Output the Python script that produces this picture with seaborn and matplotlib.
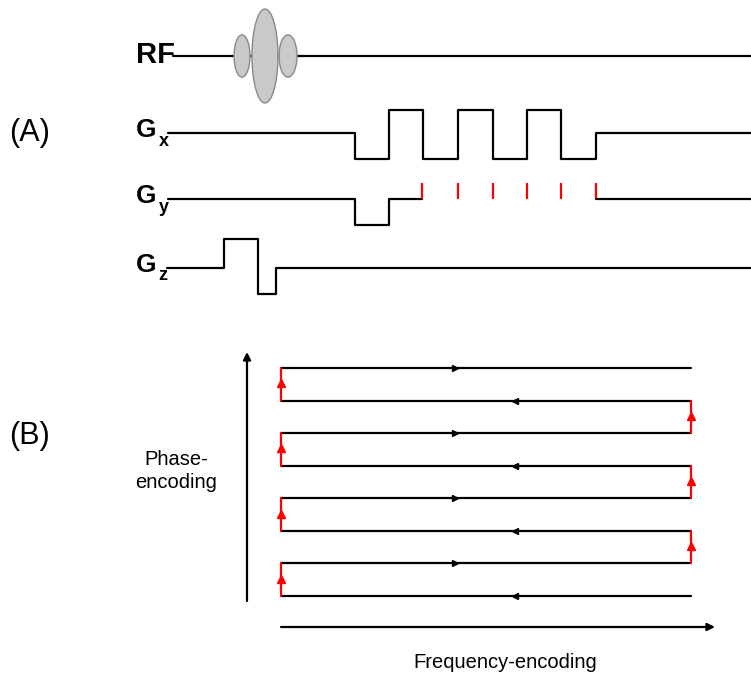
import numpy as np
import pandas as pd
import matplotlib.pyplot as plt
import seaborn as sns
from matplotlib.patches import Ellipse

# ==========================================
# DATA: EPI PULSE SEQUENCE + K-SPACE TRAJECTORY
# ==========================================
# time breakpoints of each gradient waveform, amplitude of each segment
gx_times = [168, 355, 389, 423, 458, 493, 527, 561, 596, 751]
gx_amps = [0, -1.0, 0.9, -1.0, 0.9, -1.0, 0.9, -1.0, 0]

gy_times = [168, 355, 389, 422]
gy_amps = [0, -1.0, 0]
gy_blip_times = [422, 458, 493, 527, 561, 596]
gy_blip_amp = 0.6
gy_tail_times = [596, 751]

gz_times = [167, 224, 258, 276, 751]
gz_amps = [0, 1.1, -1.0, 0]

rf_times = [173, 751]
rf_lobe_centers = [242, 265, 288]
rf_lobe_amps = [0.45, 1.0, 0.45]
rf_lobe_widths = [16, 26, 18]

# k-space: 8 phase-encoding lines, readout from kx=-1 to kx=+1
ky_lines = [0, 1, 2, 3, 4, 5, 6, 7]
kx_range = [-1.0, 1.0]

# ==========================================
# LAYOUT (figure drawn in pixel space)
# ==========================================
W, H = 751, 675
rf_base, gx_base, gy_base, gz_base = 56, 133, 199, 268
grad_scale = 26      # px per gradient unit
rf_scale = 47        # px per rf unit
k_x0, k_xs = 486, 205
k_y0, k_ys = 596, 228 / 7

sns.set_theme(style="white")
plt.rcParams['font.family'] = ['Liberation Sans', 'DejaVu Sans']
plt.rcParams['text.color'] = 'black'

fig = plt.figure(figsize=(W / 100, H / 100), dpi=100)
ax = fig.add_axes([0, 0, 1, 1])

LW = 1.6


def draw_wave(times, amps, base, color='black'):
    df = pd.DataFrame({
        't': times,
        'g': base - grad_scale * np.array(list(amps) + [amps[-1]]),
    })
    sns.lineplot(data=df, x='t', y='g', drawstyle='steps-post',
                 color=color, lw=LW, ax=ax, legend=False)


# RF line + sinc-like lobes
sns.lineplot(x=rf_times, y=[rf_base] * 2, color='black', lw=LW, ax=ax)
for cx, a, w in zip(rf_lobe_centers, rf_lobe_amps, rf_lobe_widths):
    ax.add_patch(Ellipse((cx, rf_base), w, 2 * rf_scale * a,
                         facecolor='#c9c9c9', edgecolor='#8a8a8a',
                         lw=1.0, zorder=3))

draw_wave(gx_times, gx_amps, gx_base)
draw_wave(gy_times, gy_amps, gy_base)
ax.vlines(gy_blip_times, gy_base - grad_scale * gy_blip_amp, gy_base,
          color='red', lw=LW)
sns.lineplot(x=gy_tail_times, y=[gy_base] * 2, color='black', lw=LW, ax=ax)
draw_wave(gz_times, gz_amps, gz_base)

# labels
ax.text(9, 133, '(A)', fontsize=22, va='center', ha='left')
ax.text(9, 436, '(B)', fontsize=22, va='center', ha='left')
ax.text(136, rf_base - 1, 'RF', fontsize=21, fontweight='bold', va='center')
for base, sub in [(gx_base, 'x'), (gy_base, 'y'), (gz_base, 'z')]:
    ax.text(136, base - 3, 'G', fontsize=19, fontweight='bold', va='center')
    ax.text(158.5, base + 8, sub, fontsize=13, fontweight='bold', va='center')

# ==========================================
# K-SPACE TRAJECTORY
# ==========================================
def kx_px(k):
    return k_x0 + k_xs * k


def ky_px(r):
    return k_y0 - k_ys * r


for r in ky_lines:
    y = ky_px(r)
    sns.lineplot(x=[kx_px(kx_range[0]), kx_px(kx_range[1])], y=[y, y],
                 color='black', lw=LW, ax=ax)
    if r % 2 == 0:
        ax.plot(515, y, marker='<', color='black', ms=4.5)
    else:
        ax.plot(455, y, marker='>', color='black', ms=4.5)
    if r < ky_lines[-1]:
        x = kx_px(kx_range[0]) if r % 2 == 0 else kx_px(kx_range[1])
        y2 = ky_px(r + 1)
        ax.plot([x, x], [y, y2], color='red', lw=LW, zorder=4)
        ax.plot(x, (y + y2) / 2 - 1, marker='^', color='red', ms=5.5, zorder=4)

arrow = dict(arrowstyle='-|>', color='black', lw=1.6, mutation_scale=11,
             shrinkA=0, shrinkB=0)
ax.annotate('', xy=(247, 352), xytext=(247, 601), arrowprops=arrow)
ax.annotate('', xy=(715, 627), xytext=(281, 627), arrowprops=arrow)

ax.text(176, 471, 'Phase-\nencoding', fontsize=14.5, ha='center', va='center',
        linespacing=1.3)
ax.text(505, 662, 'Frequency-encoding', fontsize=14.5, ha='center', va='center')

ax.set_xlim(0, W)
ax.set_ylim(H, 0)
ax.axis('off')

fig.savefig('out.png', dpi=100)
print("saved out.png")
